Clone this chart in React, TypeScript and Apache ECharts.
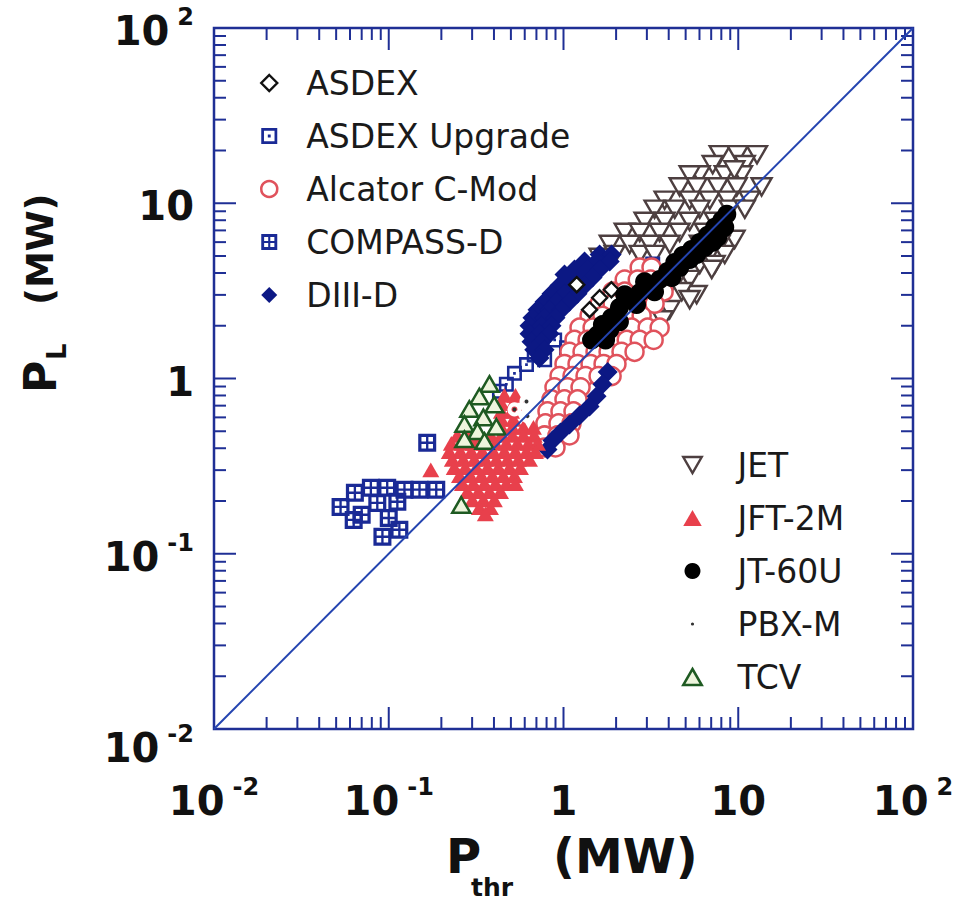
import React, { useEffect, useRef } from "react";
import * as echarts from "echarts";

const FONT = '"DejaVu Sans", sans-serif';

// axis ticks / labels
const TICK_VALUES = [0.01, 0.1, 1, 10, 100];
const TICK_BASE = ["10", "10", "1", "10", "10"];
const TICK_EXP = ["-2", "-1", "", "", "2"];
const MAJOR_TICKS = [0.1, 1, 10];
const MINOR_TICKS = [
  0.02, 0.03, 0.04, 0.05, 0.06, 0.07, 0.08, 0.09,
  0.2, 0.3, 0.4, 0.5, 0.6, 0.7, 0.8, 0.9,
  2, 3, 4, 5, 6, 7, 8, 9,
  20, 30, 40, 50, 60, 70, 80, 90,
];
const DIAGONAL = [[0.01, 0.01], [100, 100]];

// [P_thr (MW), P_L (MW)]
const ASDEX = [[1.19, 3.43], [1.61, 2.89], [1.41, 2.47], [1.88, 3.21]];
const ASDEX_UPGRADE = [
  [0.471, 0.927], [0.524, 1.07], [0.614, 1.2], [0.78, 1.28], [1.04, 1.5],
  [1.72, 1.42], [3.24, 4.5], [0.43, 0.845], [0.68, 1.36], [0.89, 1.66],
];
const ALCATOR = [
  [2.73, 4.3], [3.19, 4.3],
  [2.24, 3.67], [2.66, 3.67], [3.15, 3.67],
  [1.91, 3.13], [2.24, 3.13], [3.19, 3.13], [3.74, 3.13],
  [1.61, 2.67], [1.91, 2.67], [2.73, 2.67], [3.32, 2.67],
  [1.41, 2.28], [1.67, 2.28], [1.985, 2.28], [2.357, 2.28], [2.8, 2.28],
  [1.235, 1.95], [1.467, 1.95], [1.741, 1.95], [2.066, 1.95], [2.454, 1.95], [3.03, 1.95], [3.55, 1.95],
  [1.156, 1.66], [1.373, 1.66], [1.629, 1.66], [1.934, 1.66], [2.3, 1.66], [2.73, 1.66], [3.28, 1.66],
  [1.082, 1.42], [1.285, 1.42], [1.525, 1.42], [1.811, 1.42], [2.148, 1.42], [2.55, 1.42],
  [1.013, 1.21], [1.203, 1.21], [1.428, 1.21], [1.695, 1.21], [2.01, 1.21],
  [0.949, 1.033], [1.126, 1.033], [1.337, 1.033], [1.587, 1.033], [1.885, 1.033],
  [0.888, 0.891], [1.054, 0.891], [1.252, 0.891],
  [0.854, 0.76], [1.013, 0.76], [1.203, 0.76],
  [0.81, 0.649], [0.961, 0.649], [1.141, 0.649],
  [0.788, 0.554], [0.936, 0.554], [1.111, 0.554],
  [0.779, 0.473], [0.924, 0.473], [1.082, 0.473],
  [0.779, 0.404], [0.9, 0.404],
];
const COMPASS_D = [
  [0.053, 0.185], [0.064, 0.223], [0.079, 0.238], [0.098, 0.238], [0.123, 0.232],
  [0.15, 0.232], [0.187, 0.232], [0.086, 0.195], [0.112, 0.198], [0.07, 0.167],
  [0.092, 0.125], [0.115, 0.137], [0.166, 0.43], [0.063, 0.156], [0.1, 0.16],
];
const DIII_D = [
  [1.61, 5.1], [1.885, 5.1],
  [1.32, 4.65], [1.546, 4.65], [1.84, 4.65],
  [1.156, 4.19], [1.373, 4.19], [1.61, 4.19], [1.013, 3.92],
  [1.054, 3.77], [1.235, 3.77], [1.467, 3.77],
  [0.949, 3.39], [1.111, 3.39], [1.32, 3.39],
  [0.854, 3.05], [1.013, 3.05], [1.203, 3.05],
  [0.779, 2.74], [0.912, 2.74], [1.082, 2.74],
  [0.71, 2.47], [0.832, 2.47], [0.974, 2.47],
  [0.664, 2.22], [0.779, 2.22], [0.9, 2.22],
  [0.639, 2.0], [0.748, 2.0], [0.854, 2.0],
  [0.639, 1.8], [0.729, 1.8], [0.832, 1.8],
  [0.656, 1.62], [0.748, 1.62],
  [0.68, 1.46], [0.779, 1.46],
  [0.729, 1.31],
  [1.79, 1.09], [1.67, 0.927], [1.546, 0.791], [1.41, 0.693], [1.235, 0.616],
  [1.082, 0.547], [0.961, 0.492], [0.865, 0.443], [0.81, 0.393],
];
const JET = [
  [7.83, 18.9], [9.93, 18.9], [12.8, 18.9],
  [7.14, 16.6], [10.9, 16.6],
  [6.02, 14.5], [8.37, 14.5], [10.5, 14.5], [5.27, 14.5], [9.5, 15.5],
  [4.62, 12.4], [5.78, 12.4], [7.63, 12.4], [9.8, 12.4], [13.6, 12.4],
  [3.79, 10.4], [5.27, 10.4], [6.87, 10.4], [11.6, 10.4], [8.7, 10.4],
  [3.32, 9.24], [4.33, 9.24], [6.02, 9.24], [8.94, 9.24], [10.9, 9.24],
  [2.91, 7.88], [3.79, 7.88], [5.27, 7.88], [7.33, 7.88],
  [2.24, 6.82], [2.73, 6.82], [3.55, 6.82], [4.62, 6.82], [6.43, 6.82], [9.53, 6.22],
  [1.84, 5.82], [2.39, 5.82], [3.11, 5.82], [4.05, 5.82], [6.02, 5.82], [7.83, 5.82],
  [1.96, 5.1], [2.73, 5.1], [3.32, 5.1], [6.87, 5.1], [8.37, 5.1], [1.61, 4.91],
  [6.02, 4.47], [7.33, 4.47], [7.05, 4.19],
  [5.27, 3.67], [4.44, 3.67],
  [5.78, 3.01], [3.79, 3.01], [4.75, 3.13], [5.27, 2.82],
  [4.05, 2.47], [3.69, 2.16],
];
const JFT_2M = [
  [0.459, 0.802], [0.531, 0.802],
  [0.441, 0.722], [0.517, 0.722],
  [0.441, 0.649], [0.504, 0.649],
  [0.441, 0.584], [0.517, 0.584],
  [0.441, 0.526], [0.51, 0.526], [0.59, 0.526], [0.673, 0.526],
  [0.247, 0.473], [0.286, 0.473], [0.33, 0.473], [0.382, 0.473], [0.441, 0.473], [0.51, 0.473], [0.59, 0.473], [0.68, 0.473],
  [0.228, 0.426], [0.264, 0.426], [0.305, 0.426], [0.353, 0.426], [0.408, 0.426], [0.471, 0.426], [0.545, 0.426], [0.63, 0.426], [0.71, 0.426],
  [0.222, 0.383], [0.257, 0.383], [0.297, 0.383], [0.343, 0.383], [0.397, 0.383], [0.459, 0.383], [0.531, 0.383], [0.614, 0.383], [0.691, 0.383],
  [0.231, 0.345], [0.267, 0.345], [0.309, 0.345], [0.357, 0.345], [0.413, 0.345], [0.478, 0.345], [0.552, 0.345], [0.639, 0.345],
  [0.237, 0.31], [0.274, 0.31], [0.317, 0.31], [0.367, 0.31], [0.424, 0.31], [0.491, 0.31], [0.567, 0.31],
  [0.254, 0.279], [0.293, 0.279], [0.339, 0.279], [0.392, 0.279], [0.453, 0.279], [0.524, 0.279],
  [0.264, 0.251], [0.305, 0.251], [0.353, 0.251], [0.408, 0.251], [0.471, 0.251], [0.531, 0.251],
  [0.282, 0.226], [0.326, 0.226], [0.377, 0.226], [0.436, 0.226],
  [0.301, 0.203], [0.348, 0.203], [0.402, 0.203],
  [0.33, 0.183], [0.382, 0.183],
  [0.357, 0.169],
  [0.174, 0.301],
];
const JT_60U = [
  [1.57, 1.78], [1.67, 2.03], [1.88, 2.22], [2.09, 2.54], [2.39, 2.82],
  [2.73, 3.09], [3.11, 3.35], [3.55, 3.67], [3.94, 4.08], [2.24, 3.01],
  [2.91, 3.57], [1.84, 1.9], [4.33, 4.59], [4.81, 5.04], [5.41, 5.45],
  [6.02, 5.98], [6.69, 6.56], [7.33, 7.29], [8.05, 7.99], [8.6, 8.65],
  [5.27, 4.78], [6.43, 5.6], [7.63, 6.39], [4.62, 4.3],
  [1.741, 1.66], [2.09, 2.11], [2.62, 2.64], [3.32, 3.13], [4.16, 3.77],
  [5.78, 5.1], [7.14, 5.98], [8.37, 7.29], [1.447, 1.66],
];
const PBX_M = [[0.614, 0.74], [0.524, 0.666], [0.622, 0.61]];
const TCV = [
  [0.377, 0.93], [0.33, 0.79], [0.402, 0.71], [0.289, 0.67], [0.348, 0.6],
  [0.271, 0.55], [0.413, 0.53], [0.322, 0.5], [0.271, 0.45], [0.353, 0.44],
  [0.26, 0.19],
];

const LEGEND_LEFT = ["ASDEX", "ASDEX Upgrade", "Alcator C-Mod", "COMPASS-D", "DIII-D"];
const LEGEND_RIGHT = ["JET", "JFT-2M", "JT-60U", "PBX-M", "TCV"];

const NAVY = "#1f2f95";
const SYM_AUG = "path://M0 0H10V10H0Z M1.7 1.7V8.3H8.3V1.7Z M4.1 4.1H5.9V5.9H4.1Z";
const SYM_COMPASS = "path://M0 0H10V10H0Z M1.8 1.8V4.35H4.35V1.8Z M5.65 1.8V4.35H8.2V1.8Z M1.8 5.65V8.2H4.35V5.65Z M5.65 5.65V8.2H8.2V5.65Z";
const SYM_DOWN = "path://M0 0L10 0L5 8.66Z";
const SYM_UP = "path://M5 0L10 8.66L0 8.66Z";
const SYM_DIAMOND = "path://M5 0L10 5L5 10L0 5Z";
const SYM_DOT = "path://M0 0L0 0Z M10 10L10 10Z M4 5A1 1 0 1 0 6 5A1 1 0 1 0 4 5Z";

function labelFor(v: number, low: boolean) {
  const e = Math.round(Math.log10(v));
  const i = TICK_VALUES.findIndex((t) => Math.round(Math.log10(t)) === e);
  if (i < 0) return "";
  const body = TICK_EXP[i] ? `{n|${TICK_BASE[i]}}{s|${TICK_EXP[i]}}` : `{n|${TICK_BASE[i]}}`;
  return low ? `{g| }\n${body}` : body;
}

const richBase = {
  n: { fontFamily: FONT, fontSize: 40, fontWeight: "bold", color: "#111", lineHeight: 46, verticalAlign: "bottom" },
  s: { fontFamily: FONT, fontSize: 24, fontWeight: "bold", color: "#111", lineHeight: 26, verticalAlign: "top", padding: [0, 0, 0, 8] },
  g: { fontFamily: FONT, fontSize: 4, lineHeight: 32 },
};

function scatter(name: string, data: number[][], symbol: string, size: number, itemStyle: any) {
  return {
    name, type: "scatter", data, symbol, symbolSize: size, symbolKeepAspect: true, silent: true,
    itemStyle: { opacity: 1, ...itemStyle },
  };
}

export default function App() {
  const ref = useRef<HTMLDivElement>(null);
  useEffect(() => {
    if (!ref.current) return;
    const chart = echarts.init(ref.current, undefined, { renderer: "svg" });
    const tickData = MAJOR_TICKS.map((v) => [v, v, 1]).concat(MINOR_TICKS.map((v) => [v, v, 0]));
    const axisCommon = {
      type: "log",
      logBase: 10,
      min: 0.01,
      max: 100,
      axisLine: { show: false },
      axisTick: { show: false },
      minorTick: { show: false },
      splitLine: { show: false },
    };
    const legendCommon = {
      orient: "vertical",
      itemHeight: 16,
      itemGap: 19,
      selectedMode: false,
      symbolKeepAspect: true,
      textStyle: { fontFamily: FONT, fontSize: 33, color: "#1a1a1a", lineHeight: 34 },
      itemStyle: { borderWidth: "inherit" },
    };
    const title = (text: string, x: number, y: number, size: number) => ({
      type: "text", x, y,
      style: { text, font: `bold ${size}px ${FONT}`, fill: "#111", textVerticalAlign: "middle", verticalAlign: "middle" },
    });
    const option: any = {
      animation: false,
      backgroundColor: "#ffffff",
      grid: { left: 214, top: 28, width: 699, height: 701, show: true, borderColor: NAVY, borderWidth: 2.5, backgroundColor: "transparent" },
      xAxis: {
        ...axisCommon,
        axisLabel: { margin: 46, formatter: (v: number) => labelFor(v, false), rich: richBase },
      },
      yAxis: {
        ...axisCommon,
        axisLabel: {
          margin: 20,
          formatter: (v: number) => labelFor(v, Math.round(Math.log10(v)) === -2),
          rich: richBase,
        },
      },
      legend: [
        { ...legendCommon, data: LEGEND_LEFT, left: 255, top: 61, itemWidth: 64 },
        {
          ...legendCommon,
          data: LEGEND_RIGHT.map((n) =>
            n === "PBX-M" ? { name: n, icon: SYM_DOT, itemStyle: { borderWidth: 0, color: "#333" } } : n
          ),
          left: 677,
          top: 443,
          itemWidth: 80,
        },
      ],
      graphic: [
        title("P", 446, 856, 48),
        title("thr", 471, 887, 25),
        title("(MW)", 553, 856, 48),
        {
          type: "group",
          x: 40,
          y: 393,
          rotation: Math.PI / 2,
          children: [
            title("P", 0, 0, 44),
            title("L", 33, 17, 26),
            title("(MW)", 88, 0, 37),
          ],
        },
      ],
      series: [
        {
          name: "ticks",
          type: "custom",
          silent: true,
          data: tickData,
          renderItem: (params: any, api: any) => {
            const v = api.value(0);
            const len = api.value(2) === 1 ? 22 : 12;
            const x = api.coord([v, 1])[0];
            const y = api.coord([1, v])[1];
            const cs = params.coordSys;
            const style = { stroke: NAVY, lineWidth: 2 };
            return {
              type: "group",
              children: [
                { type: "line", shape: { x1: x, y1: cs.y + cs.height, x2: x, y2: cs.y + cs.height - len }, style },
                { type: "line", shape: { x1: x, y1: cs.y, x2: x, y2: cs.y + len }, style },
                { type: "line", shape: { x1: cs.x, y1: y, x2: cs.x + len, y2: y }, style },
                { type: "line", shape: { x1: cs.x + cs.width, y1: y, x2: cs.x + cs.width - len, y2: y }, style },
              ],
            };
          },
        },
        {
          name: "P_L = P_thr",
          type: "line",
          data: DIAGONAL,
          symbol: "none",
          silent: true,
          lineStyle: { color: "#2444b0", width: 2 },
        },
        scatter("JET", JET, SYM_DOWN, 20, { color: "#ffffff", borderColor: "#4d3f40", borderWidth: 2.4 }),
        scatter("ASDEX Upgrade", ASDEX_UPGRADE, SYM_AUG, 15, { color: "#1a2a96" }),
        scatter("Alcator C-Mod", ALCATOR, "circle", 18, { color: "#ffffff", borderColor: "#e0525c", borderWidth: 2.5 }),
        scatter("DIII-D", DIII_D, SYM_DIAMOND, 20, { color: "#0c1884" }),
        scatter("ASDEX", ASDEX, SYM_DIAMOND, 15, { color: "#ffffff", borderColor: "#111", borderWidth: 2.4 }),
        scatter("JT-60U", JT_60U, "circle", 19, { color: "#000000" }),
        scatter("JFT-2M", JFT_2M, SYM_UP, 17, { color: "#e8404c" }),
        scatter("PBX-M", PBX_M, "circle", 4, { color: "#333333", borderColor: "#ffffff", borderWidth: 10 }),
        scatter("TCV", TCV, SYM_UP, 18, { color: "#eef5dd", borderColor: "#1e5a22", borderWidth: 2.5 }),
        scatter("COMPASS-D", COMPASS_D, SYM_COMPASS, 18, { color: "#1a2a96" }),
      ],
    };
    chart.setOption(option);
    return () => chart.dispose();
  }, []);
  return (
    <div
      ref={ref}
      style={{ position: "fixed", left: 0, top: 0, width: 959, height: 909, background: "#fff" }}
    />
  );
}
